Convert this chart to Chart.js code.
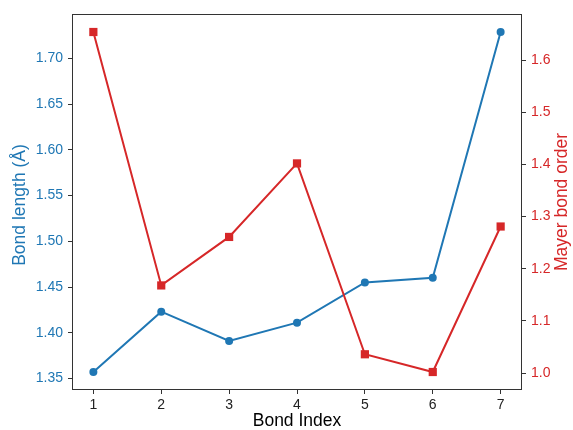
<!DOCTYPE html>
<html>
<head>
<meta charset="utf-8">
<script src="https://cdn.jsdelivr.net/npm/chart.js@4"></script>
<style>
  html, body { margin: 0; padding: 0; background: #fff; }
  #wrap { width: 573px; height: 430px; position: relative; }
</style>
</head>
<body>
<div id="wrap"><canvas id="c" width="573" height="430"></canvas></div>
<script>
// Bond indices and the two measured properties per bond
const bondIndex = [1, 2, 3, 4, 5, 6, 7];
const bondLength = [1.357, 1.423, 1.391, 1.411, 1.455, 1.460, 1.729];
const mayerOrder = [1.654, 1.168, 1.261, 1.402, 1.036, 1.002, 1.281];

// Tick labels for each axis
const xTicks = [1, 2, 3, 4, 5, 6, 7];
const leftTicks = [1.35, 1.40, 1.45, 1.50, 1.55, 1.60, 1.65, 1.70];
const rightTicks = [1.0, 1.1, 1.2, 1.3, 1.4, 1.5, 1.6];

const BLUE = '#1f77b4';
const RED = '#d62728';
const AXIS = '#333333';
const FONT = "'Liberation Sans', Arial, sans-serif";
const TICK_SIZE = 14;
const TITLE_SIZE = 17.5;

// 5% margins around the data range on every axis
function padded(vals) {
  const lo = Math.min(...vals), hi = Math.max(...vals);
  const m = (hi - lo) * 0.05;
  return { min: lo - m, max: hi + m };
}
const xr = padded(bondIndex);
const lr = padded(bondLength);
const rr = padded(mayerOrder);

const toPoints = ys => bondIndex.map((x, i) => ({ x, y: ys[i] }));
const fixedTicks = arr => scale => { scale.ticks = arr.map(v => ({ value: v })); };

const gridOpts = {
  display: true, drawOnChartArea: false, drawTicks: true,
  tickLength: 5, tickColor: AXIS, tickWidth: 1
};

// Frame and axis titles
const framePlugin = {
  id: 'frame',
  afterDraw(chart) {
    const { ctx, chartArea: a } = chart;
    ctx.save();
    ctx.strokeStyle = AXIS;
    ctx.lineWidth = 1;
    ctx.strokeRect(Math.round(a.left) - 0.5, Math.round(a.top) - 0.5,
                   Math.round(a.right - a.left) + 1, Math.round(a.bottom - a.top) + 1);

    ctx.font = TITLE_SIZE + 'px ' + FONT;
    ctx.textAlign = 'center';
    ctx.textBaseline = 'middle';
    const midY = (a.top + a.bottom) / 2 + 3;

    ctx.fillStyle = '#000';
    ctx.fillText('Bond Index', (a.left + a.right) / 2, 421);

    ctx.save();
    ctx.translate(20, midY);
    ctx.rotate(-Math.PI / 2);
    ctx.fillStyle = BLUE;
    ctx.fillText('Bond length (Å)', 0, 0);
    ctx.restore();

    ctx.save();
    ctx.translate(562, midY - 3);
    ctx.rotate(-Math.PI / 2);
    ctx.fillStyle = RED;
    ctx.fillText('Mayer bond order', 0, 0);
    ctx.restore();

    ctx.restore();
  }
};

new Chart(document.getElementById('c'), {
  type: 'line',
  data: {
    datasets: [
      {
        label: 'Mayer bond order',
        data: toPoints(mayerOrder),
        yAxisID: 'yR',
        order: 0,
        borderColor: RED,
        backgroundColor: RED,
        borderWidth: 2,
        pointStyle: 'rect',
        pointRadius: 5.8,
        pointBorderWidth: 0,
        pointBackgroundColor: RED,
        tension: 0
      },
      {
        label: 'Bond length (Å)',
        data: toPoints(bondLength),
        yAxisID: 'yL',
        order: 1,
        borderColor: BLUE,
        backgroundColor: BLUE,
        borderWidth: 2,
        pointStyle: 'circle',
        pointRadius: 4,
        pointBorderWidth: 0,
        pointBackgroundColor: BLUE,
        tension: 0
      }
    ]
  },
  options: {
    responsive: false,
    animation: false,
    layout: { padding: { top: 15, left: 0, right: 0, bottom: 0 } },
    plugins: { legend: { display: false }, tooltip: { enabled: false } },
    scales: {
      x: {
        type: 'linear',
        min: xr.min, max: xr.max,
        afterBuildTicks: fixedTicks(xTicks),
        afterFit: s => { s.height = 41; },
        grid: gridOpts,
        border: { display: false },
        ticks: { color: '#222', font: { family: FONT, size: TICK_SIZE }, padding: 3,
                 callback: v => String(v), maxRotation: 0 }
      },
      yL: {
        type: 'linear', position: 'left',
        min: lr.min, max: lr.max,
        afterBuildTicks: fixedTicks(leftTicks),
        afterFit: s => { s.width = 73; },
        grid: gridOpts,
        border: { display: false },
        ticks: { color: BLUE, font: { family: FONT, size: TICK_SIZE }, padding: 5,
                 callback: v => v.toFixed(2) }
      },
      yR: {
        type: 'linear', position: 'right',
        min: rr.min, max: rr.max,
        afterBuildTicks: fixedTicks(rightTicks),
        afterFit: s => { s.width = 52; },
        grid: gridOpts,
        border: { display: false },
        ticks: { color: RED, font: { family: FONT, size: TICK_SIZE }, padding: 5,
                 callback: v => v.toFixed(1) }
      }
    }
  },
  plugins: [framePlugin]
});
</script>
</body>
</html>
